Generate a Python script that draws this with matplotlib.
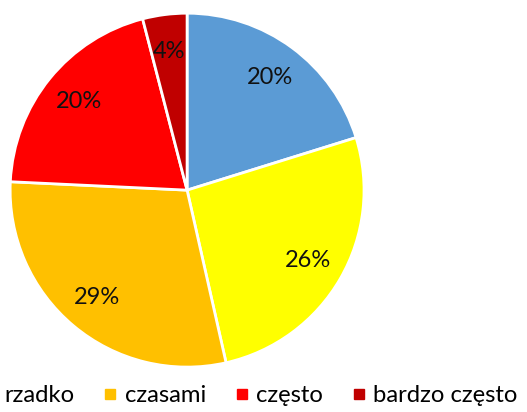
import matplotlib.pyplot as plt
from matplotlib.lines import Line2D

plt.rcParams['font.family'] = ['Lato', 'DejaVu Sans']

categories = ["nigdy", "rzadko", "czasami", "często", "bardzo często"]
values = [20, 26, 29, 20, 4]
colors = ["#5B9BD5", "#FFFF00", "#FFC000", "#FF0000", "#C00000"]

fig = plt.figure(figsize=(5.27, 4.12), dpi=100)
ax = fig.add_axes([0.019, 0.109, 0.672, 0.859])

wedges, texts, autotexts = ax.pie(
    values,
    colors=colors,
    startangle=90,
    counterclock=False,
    autopct="%.0f%%",
    pctdistance=0.79,
    wedgeprops=dict(edgecolor="white", linewidth=2),
    textprops=dict(fontsize=17, color="#111111"),
)
ax.set_xlim(-1, 1)
ax.set_ylim(-1, 1)
ax.set_aspect("equal")

# legend sticks out past the left edge, like the cropped original
handles = [Line2D([], [], marker="s", linestyle="none", markersize=7.5,
                  markerfacecolor=c, markeredgecolor=c) for c in colors]
fig.legend(handles, categories, ncol=5, frameon=False,
           loc="center right", bbox_to_anchor=(0.982, 0.039),
           borderpad=0, borderaxespad=0, handlelength=0.7,
           handletextpad=0.25, columnspacing=1.15, fontsize=17.2)

fig.savefig("out.png", dpi=100)
